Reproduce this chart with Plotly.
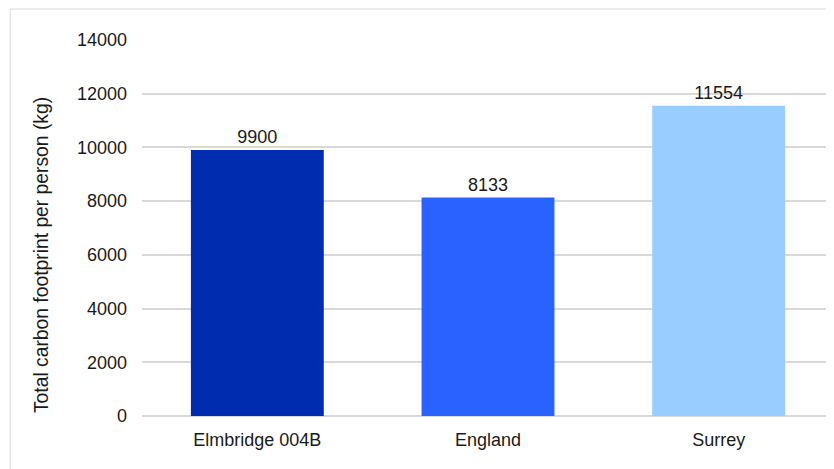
import plotly.graph_objects as go

areas = ["Elmbridge 004B", "England", "Surrey"]
footprint = [9900, 8133, 11554]
bar_colors = ["#002DB0", "#2962FF", "#99CCFF"]
y_ticks = [0, 2000, 4000, 6000, 8000, 10000, 12000, 14000]

# the page body has an 8px margin, so the figure is 8px smaller and shifted
fig = go.Figure(go.Bar(
    x=areas, y=footprint,
    marker=dict(color=bar_colors, line=dict(width=0)),
    text=[str(v) for v in footprint],
    textposition="outside",
    textfont=dict(size=18, color="#1a1a1a"),
    cliponaxis=False,
))

fig.update_layout(
    width=826, height=461,
    margin=dict(l=134, r=0, t=32, b=53),
    paper_bgcolor="white", plot_bgcolor="white",
    font=dict(family="Liberation Sans, Arial, sans-serif", size=18, color="#1a1a1a"),
    bargap=0.424,
    showlegend=False,
    xaxis=dict(showgrid=False, showline=False, ticks="", ticklabelstandoff=11),
    yaxis=dict(range=[0, 14000], tickvals=y_ticks, ticktext=[str(v) for v in y_ticks],
               showgrid=True, gridcolor="#D9D9D9", gridwidth=1.5, zeroline=True,
               zerolinecolor="#D9D9D9", zerolinewidth=1.5,
               ticks="", ticklabelstandoff=14),
    annotations=[dict(
        text="Total carbon footprint per person (kg)", textangle=-90,
        xref="paper", yref="paper", x=-0.146, y=0.428,
        xanchor="center", yanchor="middle", showarrow=False,
        font=dict(size=19.3, color="#1a1a1a"),
    )],
    shapes=[dict(
        type="rect", xref="paper", yref="paper",
        x0=-0.1905, x1=1.02, y0=-0.17, y1=1.0824,
        line=dict(color="#D9D9D9", width=1), layer="below",
    )],
)

fig.write_html("out.html")
